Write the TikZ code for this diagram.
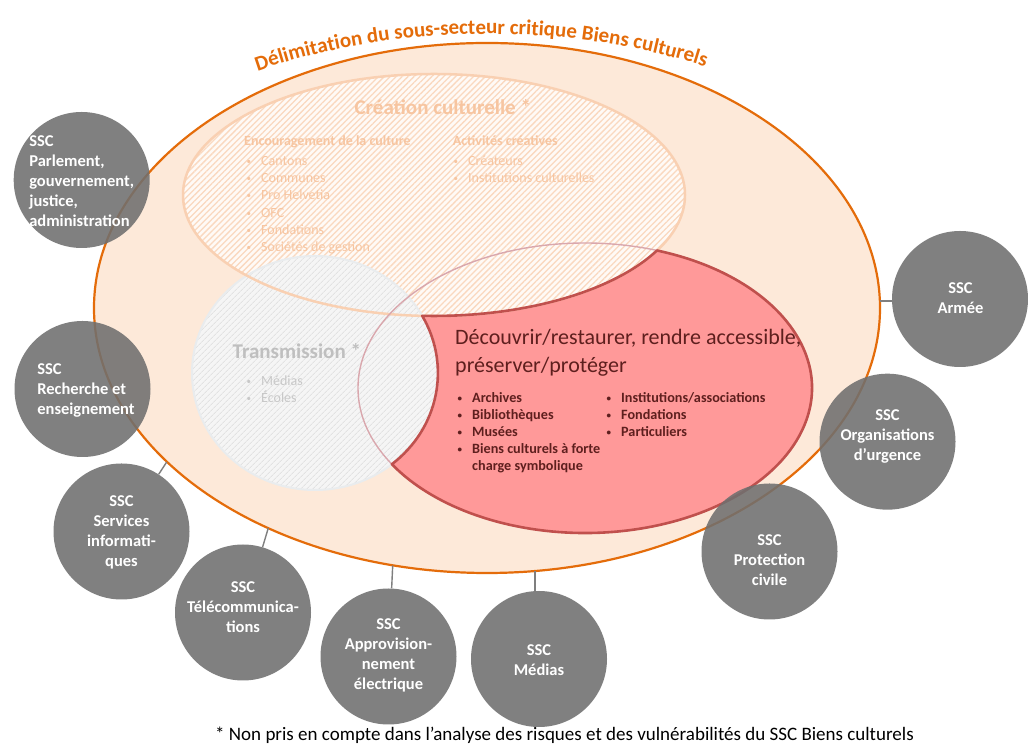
\documentclass[tikz,border=0pt]{standalone}
\usepackage{fontspec}
\setmainfont{Carlito}
\usetikzlibrary{patterns.meta,decorations.text}
\definecolor{bigfill}{HTML}{FDE9D9}
\definecolor{bigline}{HTML}{E46C0A}
\definecolor{creafill}{HTML}{FFFAF6}
\definecolor{creahatch}{HTML}{FAD8BF}
\definecolor{crealine}{HTML}{F9D0B2}
\definecolor{creatext}{HTML}{F7C5A0}
\definecolor{transfill}{HTML}{F5F5F5}
\definecolor{transhatch}{HTML}{E2E2E2}
\definecolor{transline}{HTML}{E9ECEE}
\definecolor{transhead}{HTML}{BFBFBF}
\definecolor{transtext}{HTML}{C8C8C8}
\definecolor{redfill}{HTML}{FF9999}
\definecolor{redline}{HTML}{C0504D}
\definecolor{redfaint}{HTML}{D9A7AD}
\definecolor{redtext}{HTML}{5E1F1E}
\definecolor{sscgray}{HTML}{6F6F6F}
\definecolor{conngray}{HTML}{7F7F7F}
\newcommand\mybul{\makebox[15.5pt][l]{\hspace{1pt}\raisebox{1pt}{\fontsize{9}{9}\selectfont •}}}
\newcommand\titlefmt{\fontsize{21}{25}\selectfont\bfseries\color{bigline}}
\begin{document}
\begin{tikzpicture}[x=1pt,y=1pt,
 sscc/.style={circle, fill=sscgray, fill opacity=0.88, draw=none, minimum size=136pt, inner sep=0pt},
 sscl/.style={text=white, font=\fontsize{16.5}{20}\selectfont\bfseries, inner sep=0pt},
 conn/.style={draw=conngray, line width=1.4pt},
 creah/.style={text=creatext, font=\fontsize{14}{17}\selectfont\bfseries, inner sep=0pt, anchor=base west},
 creai/.style={text=creatext, font=\fontsize{14}{17}\selectfont, inner sep=0pt, anchor=base west},
 transi/.style={text=transtext, font=\fontsize{14}{17}\selectfont, inner sep=0pt, anchor=base west},
 redi/.style={text=redtext, font=\fontsize{14.2}{17}\selectfont\bfseries, inner sep=0pt, anchor=base west},
 headline/.style={font=\fontsize{21}{25}\selectfont\bfseries, inner sep=0pt},
 redhead/.style={text=redtext, font=\fontsize{22}{28}\selectfont, inner sep=0pt, anchor=base west},
]
\useasboundingbox (0,0) rectangle (1028,746);
\fill[white] (0,0) rectangle (1028,746);

% outer sub-sector ellipse
\draw[fill=bigfill, draw=bigline, line width=2.2pt] (487,438) ellipse[x radius=393pt, y radius=265pt];

% red region fill (red ellipse minus creation and transmission)
\fill[redfill] (585,358) ++(71.53:227 and 145)
  arc[start angle=71.53, end angle=-148.28, x radius=227pt, y radius=145pt]
  arc[start angle=-51.24, end angle=29.25, x radius=123pt, y radius=117pt]
  arc[start angle=-92.7, end angle=-27.31, x radius=251pt, y radius=121pt] -- cycle;

% creation ellipse
\fill[creafill] (434,551) ellipse[x radius=251pt, y radius=121pt];
\fill[pattern={Lines[angle=45,distance=4.2pt,line width=1.3pt]}, pattern color=creahatch] (434,551) ellipse[x radius=251pt, y radius=121pt];
% transmission ellipse
\fill[transfill] (315,373) ellipse[x radius=123pt, y radius=117pt];
\fill[pattern={Lines[angle=45,distance=4pt,line width=1pt]}, pattern color=transhatch] (315,373) ellipse[x radius=123pt, y radius=117pt];
\draw[transline, line width=2pt] (315,373) ellipse[x radius=123pt, y radius=117pt];
\draw[crealine, line width=2.5pt] (434,551) ellipse[x radius=251pt, y radius=121pt];

% faint outline of the red ellipse
\draw[redfaint, line width=1.4pt] (585,358) ellipse[x radius=227pt, y radius=145pt];

% dark border of the red region
\draw[redline, line width=2.6pt, line join=round] (585,358) ++(71.53:227 and 145)
  arc[start angle=71.53, end angle=-148.28, x radius=227pt, y radius=145pt]
  arc[start angle=-51.24, end angle=29.25, x radius=123pt, y radius=117pt]
  arc[start angle=-92.7, end angle=-27.31, x radius=251pt, y radius=121pt] -- cycle;

% creation texts
\node[headline, text=creatext, anchor=base] (creat) at (442.8,631) {Création culturelle *};
\node[creah] (enc) at (244,600) {Encouragement de la culture};
\node[creah] (act) at (452.7,600) {Activités créatives};
\foreach \t [count=\i] in {Cantons,Communes,Pro Helvetia,OFC,Fondations,Sociétés de gestion}
  \node[creai] (ce\i) at (245.5,597.7-17.2*\i) {\mybul\t};
\foreach \t [count=\i] in {Créateurs,Institutions culturelles}
  \node[creai] (ca\i) at (452.5,597.7-17.2*\i) {\mybul\t};

% transmission texts
\node[headline, text=transhead, anchor=base west] (transt) at (232.5,387) {Transmission *};
\foreach \t [count=\i] in {Médias,Écoles}
  \node[transi] (tr\i) at (245.5,377-17*\i) {\mybul\t};

% red region texts
\node[redhead] (redt1) at (455,401) {Découvrir/restaurer, rendre accessible,};
\node[redhead] (redt2) at (455,373) {préserver/protéger};
\foreach \t [count=\i] in {Archives,Bibliothèques,Musées,Biens culturels à forte}
  \node[redi] (ra\i) at (456.5,360-17*\i) {\mybul\t};
\node[redi] (ra5) at (472,275) {charge symbolique};
\foreach \t [count=\i] in {Institutions/associations,Fondations,Particuliers}
  \node[redi] (rb\i) at (605.5,360-17*\i) {\mybul\t};

% title along the arc
\path[decorate, decoration={text along path, text align=center,
  text={|\titlefmt|Délimitation du sous-secteur critique Biens culturels}}]
  (488,440) ++(126:456 and 272) arc[start angle=126, end angle=56, x radius=456pt, y radius=272pt];

% SSC circles
\node[sscc] (parl) at (81.7,566) {};
\node[sscc] (rech) at (82.5,357) {};
\node[sscc] (svc) at (121.5,214.5) {};
\node[sscc] (tel) at (243,133.5) {};
\node[sscc] (app) at (388.5,89.5) {};
\node[sscc] (med) at (539,87) {};
\node[sscc] (pro) at (769.5,194.5) {};
\node[sscc] (org) at (887.5,304.3) {};
\node[sscc] (arm) at (960,447) {};

\node[sscl, align=left] (parlt) at (81.7,565) {SSC\\Parlement,\\gouvernement,\\justice,\\administration};
\node[sscl, align=left] (recht) at (86,356) {SSC\\Recherche et\\enseignement};
\node[sscl, align=center] (svct) at (121.5,214) {SSC\\Services\\informati-\\ques};
\node[sscl, align=center] (telt) at (243,139) {SSC\\Télécommunica-\\tions};
\node[sscl, align=center] (appt) at (388.5,91) {SSC\\Approvision-\\nement\\électrique};
\node[sscl, align=center] (medt) at (539,86) {SSC\\Médias};
\node[sscl, align=center] (prot) at (769.5,186) {SSC\\Protection\\civile};
\node[sscl, align=center] (orgt) at (887.5,309.3) {SSC\\Organisations\\d’urgence};
\node[sscl, align=center] (armt) at (960.5,448) {SSC\\Armée};

% connectors
\coordinate (e1) at (166.7,284);
\coordinate (e2) at (268.3,218);
\coordinate (e3) at (392.7,180.5);
\coordinate (e4) at (535,175);
\coordinate (e5) at (880,445);
\draw[conn] (svc) -- (e1);
\draw[conn] (tel) -- (e2);
\draw[conn] (app) -- (e3);
\draw[conn] (e4) -- (e4 |- med.north);
\draw[conn] (e5) -- (e5 -| arm.west);

% footnote
\node[font=\fontsize{19}{22}\selectfont, anchor=base west, inner sep=0pt] (foot) at (215,5)
  {* Non pris en compte dans l’analyse des risques et des vulnérabilités du SSC Biens culturels};
\end{tikzpicture}
\end{document}
